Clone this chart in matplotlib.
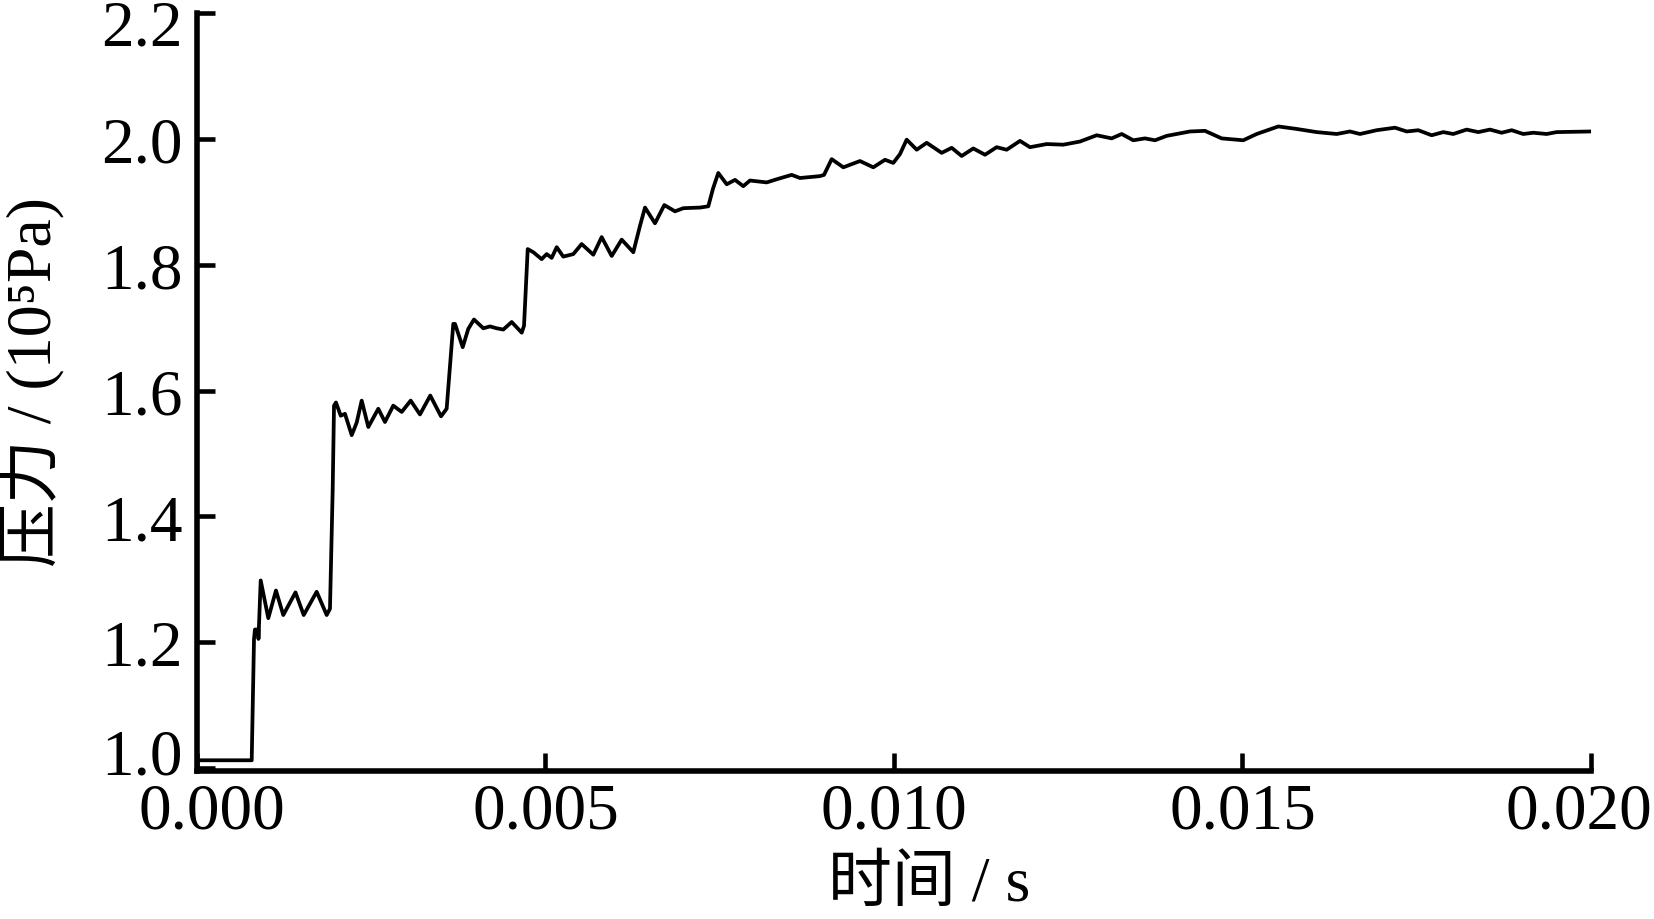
import matplotlib
matplotlib.use('Agg')
import matplotlib.pyplot as plt
import matplotlib.transforms as mtransforms

plt.rcParams['font.family'] = ['Liberation Serif', 'Noto Sans CJK SC']

# time (s) and pressure (10^5 Pa)
t = [0.0, 0.000785, 0.000818, 0.000832, 0.000879, 0.000882, 0.000914, 0.001023,
     0.001133, 0.001238, 0.001413, 0.001531, 0.001717, 0.001861, 0.001908, 0.001947,
     0.001966, 0.001994, 0.002062, 0.002123, 0.002220, 0.002291, 0.002363, 0.002458,
     0.002601, 0.002697, 0.002816, 0.002937, 0.003066, 0.003199, 0.003347, 0.003501,
     0.003582, 0.003677, 0.003702, 0.003812, 0.003892, 0.003974, 0.004108, 0.004204,
     0.004300, 0.004395, 0.004515, 0.004659, 0.004692, 0.004745, 0.004825, 0.004945,
     0.005017, 0.005089, 0.005161, 0.005255, 0.005399, 0.005519, 0.005686, 0.005806,
     0.005950, 0.006093, 0.006260, 0.006356, 0.006428, 0.006571, 0.006705, 0.006858,
     0.006977, 0.007217, 0.007336, 0.007403, 0.007479, 0.007600, 0.007719, 0.007838,
     0.007934, 0.008174, 0.008317, 0.008532, 0.008651, 0.008938, 0.008996, 0.009106,
     0.009273, 0.009512, 0.009703, 0.009871, 0.009990, 0.010086, 0.010182, 0.010326,
     0.010469, 0.010684, 0.010828, 0.010971, 0.011138, 0.011306, 0.011473, 0.011617,
     0.011808, 0.011951, 0.012191, 0.012429, 0.012669, 0.012908, 0.013123, 0.013267,
     0.013433, 0.013601, 0.013745, 0.013912, 0.014247, 0.014462, 0.014701, 0.015011,
     0.015204, 0.015514, 0.015778, 0.016065, 0.016352, 0.016542, 0.016686, 0.016925,
     0.017188, 0.017356, 0.017522, 0.017714, 0.017881, 0.018024, 0.018216, 0.018383,
     0.018550, 0.018718, 0.018862, 0.019028, 0.019172, 0.019364, 0.019507, 0.020000]
p = [1.012, 1.012, 1.205, 1.220, 1.220, 1.205, 1.298, 1.238,
     1.282, 1.243, 1.279, 1.243, 1.280, 1.243, 1.253, 1.443,
     1.576, 1.581, 1.560, 1.563, 1.529, 1.549, 1.584, 1.542,
     1.571, 1.550, 1.576, 1.566, 1.584, 1.562, 1.592, 1.559,
     1.571, 1.706, 1.706, 1.669, 1.698, 1.713, 1.699, 1.702,
     1.699, 1.697, 1.709, 1.692, 1.703, 1.825, 1.820, 1.809,
     1.817, 1.811, 1.828, 1.813, 1.817, 1.833, 1.816, 1.844,
     1.814, 1.840, 1.820, 1.862, 1.891, 1.866, 1.895, 1.885,
     1.890, 1.891, 1.893, 1.921, 1.946, 1.928, 1.935, 1.925,
     1.934, 1.931, 1.936, 1.943, 1.938, 1.941, 1.943, 1.968,
     1.955, 1.965, 1.955, 1.967, 1.962, 1.976, 1.999, 1.983,
     1.994, 1.978, 1.986, 1.973, 1.985, 1.975, 1.987, 1.983,
     1.997, 1.987, 1.992, 1.991, 1.996, 2.006, 2.001, 2.008,
     1.998, 2.001, 1.998, 2.005, 2.012, 2.013, 2.001, 1.998,
     2.008, 2.020, 2.016, 2.011, 2.008, 2.012, 2.008, 2.014,
     2.018, 2.012, 2.014, 2.006, 2.011, 2.008, 2.015, 2.011,
     2.015, 2.010, 2.014, 2.008, 2.010, 2.008, 2.011, 2.012]

xticks = [0.000, 0.005, 0.010, 0.015, 0.020]
xtick_labels = ['0.000', '0.005', '0.010', '0.015', '0.020']
yticks = [1.0, 1.2, 1.4, 1.6, 1.8, 2.0, 2.2]
ytick_labels = ['1.0', '1.2', '1.4', '1.6', '1.8', '2.0', '2.2']

fig = plt.figure(figsize=(16.54, 9.2), dpi=100)
ax = fig.add_axes([0.1191, 0.1609, 0.8428, 0.8236])
ax.plot(t, p, '-', color='black', lw=2.7, solid_joinstyle='round')

ax.set_xlim(0.0, 0.020)
ax.set_ylim(0.995, 2.2)
ax.set_xticks(xticks, xtick_labels)
ax.set_yticks(yticks, ytick_labels)

# only left and bottom axes, thick, ticks pointing inward
ax.spines['top'].set_visible(False)
ax.spines['right'].set_visible(False)
ax.spines['left'].set_linewidth(4)
ax.spines['bottom'].set_linewidth(4)
ax.tick_params(axis='both', direction='in', length=13, width=3.3, labelsize=47, color='black')
ax.tick_params(axis='x', pad=8)
ax.tick_params(axis='y', pad=10)

# nudge the end labels inward like the original
def nudge(lbl, dx, dy):
    lbl.set_transform(lbl.get_transform() + mtransforms.ScaledTranslation(dx / 100, dy / 100, fig.dpi_scale_trans))

xl = ax.get_xticklabels()
nudge(xl[0], 15, 0)
nudge(xl[-1], -12, 0)
yl = ax.get_yticklabels()
nudge(yl[0], 0, 17)
nudge(yl[-1], 0, -8)

fig.text(0.0193, 0.5848, '压力 / (10⁵Pa)', rotation=90, ha='center', va='center', fontsize=46)
fig.text(0.562, 0.037, '时间 / s', ha='center', va='center', fontsize=46)

fig.savefig('out.png', dpi=100, facecolor='white')
